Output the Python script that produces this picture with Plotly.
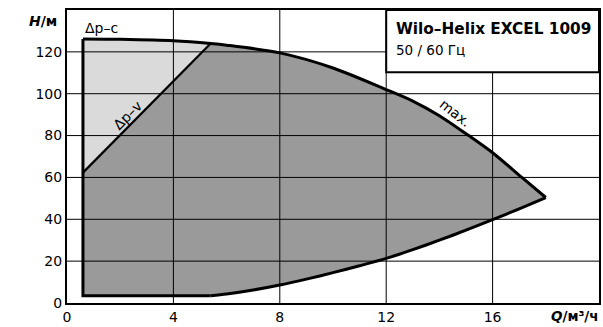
import plotly.graph_objects as go

# Pump operating envelope: Wilo-Helix EXCEL 1009, 50/60 Hz
# upper (max.) characteristic, Q in m³/h, H in m
upper_q = [0.6, 2.0, 4.0, 5.4, 6.0, 8.0, 10.0, 12.0, 13.0, 14.0, 15.1, 16.0, 17.1, 18.0]
upper_h = [126.2, 126.0, 125.3, 124.0, 123.2, 119.5, 112.3, 102.0, 96.5, 89.5, 80.0, 71.8, 60.0, 50.4]

# lower limit curve
lower_q = [5.4, 6.0, 7.0, 8.0, 9.0, 10.0, 11.0, 12.0, 13.0, 14.0, 15.0, 16.0, 17.0, 18.0]
lower_h = [3.5, 4.3, 6.2, 8.6, 11.4, 14.5, 17.8, 21.3, 25.5, 30.0, 34.8, 39.8, 45.0, 50.4]

# minimum flow / minimum head
q_min = 0.6
h_min = 3.5

# Δp-v control line
dpv_q = [0.6, 5.4]
dpv_h = [62.3, 124.0]

x_ticks = [0, 4, 8, 12, 16]
y_ticks = [0, 20, 40, 60, 80, 100, 120]
x_max = 20
y_max = 140

FONT = "DejaVu Sans"
DARK = "#9a9a9a"
LIGHT = "#dadada"

fig = go.Figure()

# dark envelope fill
env_q = [q_min] + upper_q + lower_q[::-1] + [q_min]
env_h = [h_min] + upper_h + lower_h[::-1] + [h_min]
fig.add_trace(go.Scatter(x=env_q, y=env_h, mode="lines", fill="toself",
                         fillcolor=DARK, line=dict(width=0), hoverinfo="skip"))

# light Δp-c / Δp-v region
lq = [q for q in upper_q if q <= dpv_q[1]]
lh = upper_h[:len(lq)]
fig.add_trace(go.Scatter(x=[dpv_q[0]] + lq + [dpv_q[0]],
                         y=[dpv_h[0]] + lh + [dpv_h[0]],
                         mode="lines", fill="toself", fillcolor=LIGHT,
                         line=dict(width=0), hoverinfo="skip"))

# outlines
fig.add_trace(go.Scatter(x=upper_q, y=upper_h, mode="lines",
                         line=dict(color="black", width=3, shape="spline", smoothing=0.8),
                         hoverinfo="skip"))
fig.add_trace(go.Scatter(x=lower_q, y=lower_h, mode="lines",
                         line=dict(color="black", width=3, shape="spline", smoothing=0.8),
                         hoverinfo="skip"))
fig.add_trace(go.Scatter(x=[lower_q[0], q_min, q_min], y=[h_min, h_min, upper_h[0]],
                         mode="lines", line=dict(color="black", width=3),
                         hoverinfo="skip"))
fig.add_trace(go.Scatter(x=dpv_q, y=dpv_h, mode="lines",
                         line=dict(color="black", width=2.2), hoverinfo="skip"))

axis_common = dict(showgrid=False, zeroline=False,
                   showline=True, linecolor="black", linewidth=2, mirror=True,
                   ticks="", tickfont=dict(family=FONT, size=14, color="black"))

fig.update_xaxes(range=[0, x_max], tickvals=x_ticks, **axis_common)
fig.update_yaxes(range=[0, y_max], tickvals=y_ticks, **axis_common)

# grid drawn on top of the filled areas
shapes = []
for xv in x_ticks[1:]:
    shapes.append(dict(type="line", xref="x", yref="y", x0=xv, x1=xv, y0=0, y1=y_max,
                       line=dict(color="black", width=1), layer="above"))
for yv in y_ticks[1:]:
    shapes.append(dict(type="line", xref="x", yref="y", x0=0, x1=x_max, y0=yv, y1=yv,
                       line=dict(color="black", width=1), layer="above"))
# title box
shapes.append(dict(type="rect", xref="x", yref="y", x0=12, x1=x_max, y0=110.2, y1=y_max,
                   fillcolor="white", line=dict(color="black", width=2), layer="above"))
fig.update_layout(shapes=shapes)

ann = [
    dict(x=12.29, y=130.9, xref="x", yref="y", xanchor="left", yanchor="middle",
         text="<b>Wilo–Helix EXCEL 1009</b>", showarrow=False,
         font=dict(family=FONT, size=15.3, color="black")),
    dict(x=12.29, y=120.8, xref="x", yref="y", xanchor="left", yanchor="middle",
         text="50 / 60 Гц", showarrow=False,
         font=dict(family=FONT, size=13.5, color="black")),
    dict(x=0.6, y=131.3, xref="x", yref="y", xanchor="left", yanchor="middle",
         text="Δp–c", showarrow=False,
         font=dict(family=FONT, size=14, color="black")),
    dict(x=2.3, y=89.6, xref="x", yref="y", xanchor="center", yanchor="middle",
         text="Δp–v", showarrow=False, textangle=-45,
         font=dict(family=FONT, size=14, color="black")),
    dict(x=14.6, y=90.9, xref="x", yref="y", xanchor="center", yanchor="middle",
         text="max.", showarrow=False, textangle=38,
         font=dict(family=FONT, size=14, color="black")),
    dict(x=0, y=134.6, xref="paper", yref="y", xanchor="right", yanchor="middle",
         xshift=-8, text="<b><i>H</i>/м</b>", showarrow=False,
         font=dict(family=FONT, size=14, color="black")),
    dict(x=1, y=0, xref="paper", yref="paper", xanchor="right", yanchor="middle",
         yshift=-13, xshift=2, text="<b><i>Q</i>/м³/ч</b>", showarrow=False,
         font=dict(family=FONT, size=13.5, color="black")),
]
fig.update_layout(annotations=ann)

fig.update_layout(width=603, height=327, showlegend=False,
                  margin=dict(l=67, r=2, t=10, b=23),
                  paper_bgcolor="white", plot_bgcolor="white")

fig.write_html("out.html")
